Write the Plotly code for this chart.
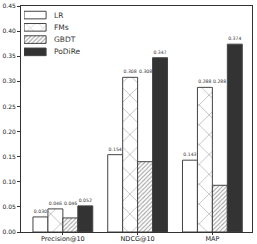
import plotly.graph_objects as go

categories = ["Precision@10", "NDCG@10", "MAP"]
lr = [0.030, 0.154, 0.143]
fms = [0.046, 0.308, 0.288]
gbdt = [0.028, 0.140, 0.093]
podire = [0.052, 0.347, 0.374]
# labels shown above the GBDT bars in the original (drawn at FMs height)
gbdt_label_vals = [0.046, 0.308, 0.288]
series_names = ["LR", "FMs", "GBDT", "PoDiRe"]

xs = list(range(len(categories)))
edge = dict(color="#444444", width=1)
font = "DejaVu Sans, sans-serif"

fills = ["white", "white", "white", "#333333"]
shapes_pat = ["", "x", "/", ""]
sizes_pat = [8, 14, 3, 8]
solid_pat = [0.3, 0.08, 0.35, 0.3]
fg_pat = ["#333333", "#333333", "#444444", "#333333"]

fig = go.Figure()
all_vals = [lr, fms, gbdt, podire]
for k, (name, vals) in enumerate(zip(series_names, all_vals)):
    marker = dict(color=fills[k], line=edge)
    if shapes_pat[k]:
        marker["pattern"] = dict(shape=shapes_pat[k], size=sizes_pat[k], solidity=solid_pat[k],
                                 fgcolor=fg_pat[k], bgcolor="white")
    show_text = name != "GBDT"
    fig.add_trace(go.Bar(
        x=xs, y=vals, name=name, marker=marker, showlegend=False,
        text=[f"{v:.3f}" for v in vals] if show_text else None,
        textposition="outside", cliponaxis=False,
        textfont=dict(size=4.6, color="#333333", family=font),
    ))

for i, v in enumerate(gbdt_label_vals):
    fig.add_annotation(x=i + 0.1, y=v, text=f"{v:.3f}", showarrow=False,
                       yanchor="bottom", yshift=1,
                       font=dict(size=4.6, color="#333333", family=font))

# legend drawn as a small horizontal bar chart (wide swatches as in the original)
fig.add_trace(go.Bar(
    x=[1] * len(series_names), y=series_names, orientation="h",
    xaxis="x2", yaxis="y2", width=0.62, showlegend=False, hoverinfo="skip",
    marker=dict(color=fills, line=edge,
                pattern=dict(shape=shapes_pat, size=[5, 9, 3, 5], solidity=solid_pat,
                             fgcolor=fg_pat, bgcolor=fills)),
))
for name in series_names:
    fig.add_annotation(x=1.25, y=name, xref="x2", yref="y2", text=name, showarrow=False,
                       xanchor="left", font=dict(size=7.5, color="#333333", family=font))

fig.update_layout(
    width=257, height=244,
    margin=dict(l=21, r=5, t=6, b=12),
    barmode="group", bargap=0.2, bargroupgap=0,
    plot_bgcolor="white", paper_bgcolor="white",
    font=dict(family=font, size=7, color="#222222"),
    showlegend=False,
    xaxis2=dict(domain=[0.013, 0.3], range=[0, 3], visible=False, anchor="y2", fixedrange=True),
    yaxis2=dict(domain=[0.77, 0.987], range=[3.5, -0.5], visible=False, anchor="x2",
                type="category", fixedrange=True),
)
fig.update_layout(xaxis=dict(
    tickvals=xs, ticktext=categories, range=[-0.56, 2.53],
    showline=True, linecolor="#333333", linewidth=1, mirror=True,
    ticks="outside", ticklen=2, tickcolor="#333333", ticklabelstandoff=-2,
    tickfont=dict(size=6.5, color="#222222"), showgrid=False, automargin=False,
))
fig.update_layout(yaxis=dict(
    range=[0, 0.45], dtick=0.05, tick0=0, tickformat=".2f",
    showline=True, linecolor="#333333", linewidth=1, mirror=True,
    ticks="outside", ticklen=3, tickcolor="#333333",
    tickfont=dict(size=6, color="#222222"), showgrid=False, zeroline=False, automargin=False,
))
fig.write_html("out.html", config={"displayModeBar": False},
               post_script="document.body.style.margin='0';document.body.style.overflow='hidden';")
